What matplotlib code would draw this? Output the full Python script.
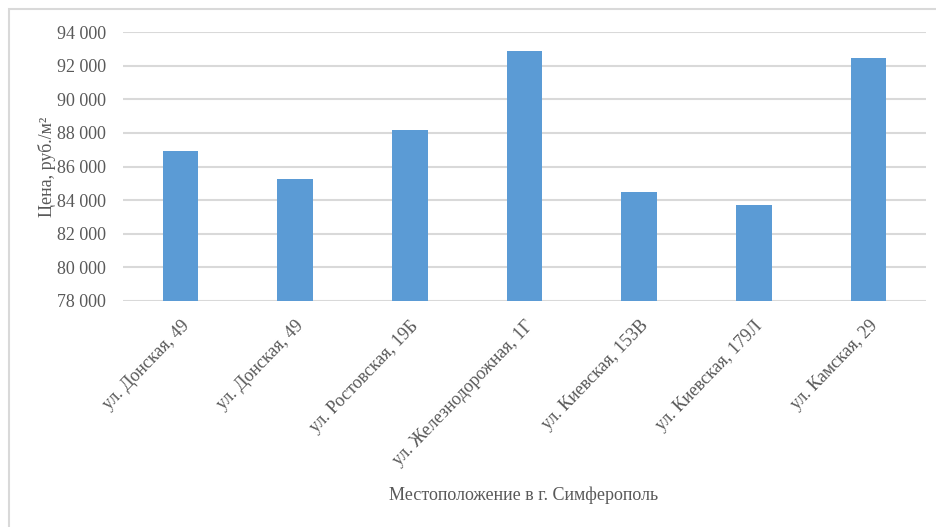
import matplotlib.pyplot as plt
from matplotlib.patches import Rectangle
from matplotlib.ticker import FuncFormatter

# data
locations = ['ул. Донская, 49', 'ул. Донская, 49', 'ул. Ростовская, 19Б',
             'ул. Железнодорожная, 1Г', 'ул. Киевская, 153В', 'ул. Киевская, 179Л',
             'ул. Камская, 29']
prices = [86900, 85250, 88200, 92900, 84500, 83700, 92450]
y_ticks = list(range(78000, 94001, 2000))

TXT = '#595959'
GRID = '#D9D9D9'
BAR = '#5B9BD5'

plt.rcParams['font.family'] = ['Liberation Serif', 'DejaVu Serif']

fig = plt.figure(figsize=(9.36, 5.27), dpi=100)
W, H = 936, 527
ax = fig.add_axes([123 / W, 1 - 300.7 / H, (926 - 123) / W, (300.7 - 32.3) / H])

x = list(range(len(locations)))
ax.bar(x, prices, width=0.31, color=BAR, zorder=3)
ax.set_xlim(-0.5, len(locations) - 0.5)
ax.set_ylim(78000, 94000)
ax.set_yticks(y_ticks)
ax.yaxis.set_major_formatter(FuncFormatter(lambda v, p: f'{int(v):,}'.replace(',', ' ')))
ax.grid(axis='y', color=GRID, linewidth=1.5, zorder=0)
ax.set_axisbelow(True)
for s in ax.spines.values():
    s.set_visible(False)

ax.tick_params(axis='y', length=0, pad=12, labelsize=13, labelcolor=TXT)
ax.tick_params(axis='x', length=0, pad=12, labelsize=13, labelcolor=TXT)
ax.set_xticks(x)
ax.set_xticklabels(locations, rotation=46, ha='right', rotation_mode='anchor')

ax.set_ylabel('Цена, руб./м²', fontsize=13, color=TXT, labelpad=1)
fig.text(524 / W, 1 - 495 / H, 'Местоположение в г. Симферополь',
         ha='center', va='center', fontsize=13, color=TXT)

# outer chart frame
fig.patches.append(Rectangle((9 / W, -0.1), 1.2, 1.1 - 9 / H,
                             transform=fig.transFigure, fill=False,
                             edgecolor=GRID, linewidth=1.5))

fig.savefig('out.png', dpi=100)
